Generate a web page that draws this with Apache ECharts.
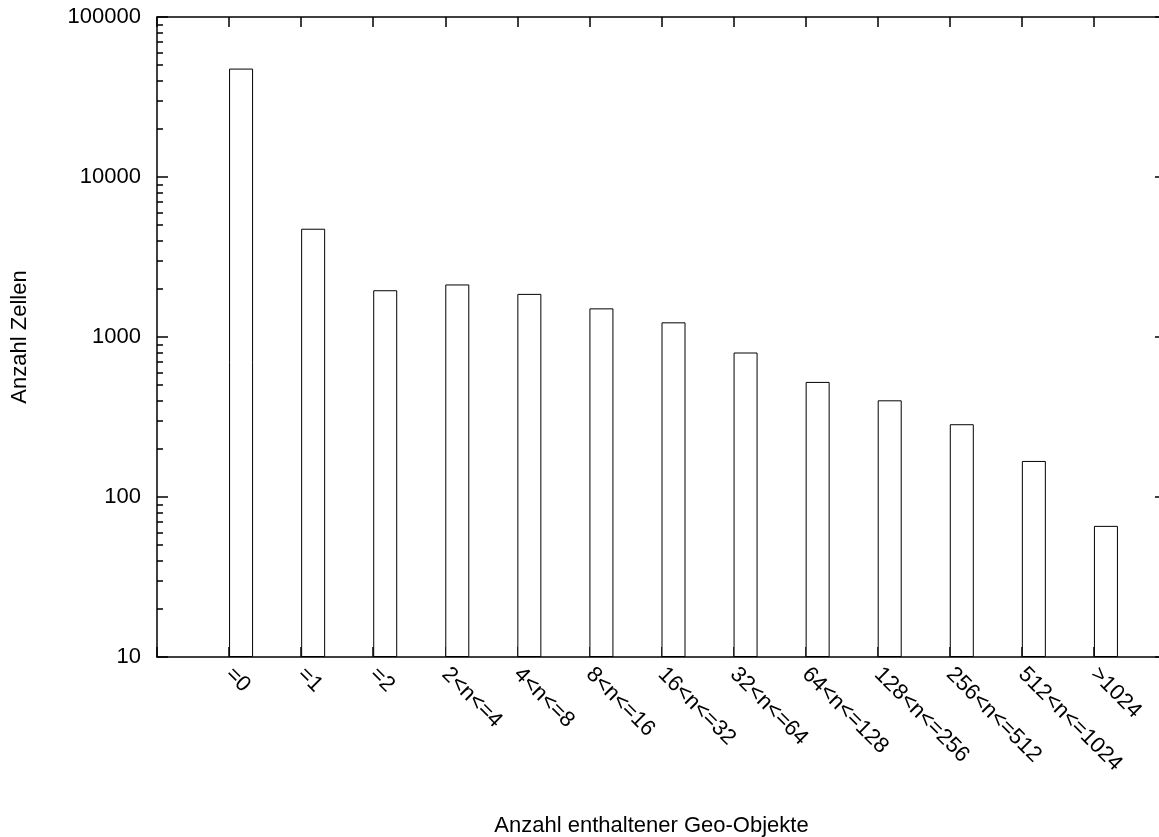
<!DOCTYPE html>
<html>
<head>
<meta charset="utf-8">
<script src="https://cdn.jsdelivr.net/npm/echarts@6/dist/echarts.min.js"></script>
<style>
html,body{margin:0;padding:0;background:#fff;}
#c{width:1159px;height:837px;}
</style>
</head>
<body>
<div id="c"></div>
<script>
const categories = ['=0','=1','=2','2<n<=4','4<n<=8','8<n<=16','16<n<=32','32<n<=64','64<n<=128','128<n<=256','256<n<=512','512<n<=1024','>1024'];
const cellCounts = [47600, 4750, 1960, 2130, 1860, 1510, 1235, 800, 524, 402, 285, 168, 66];
const yTickLabels = [10, 100, 1000, 10000, 100000];
const minorMultipliers = [2, 3, 4, 5, 6, 7, 8, 9];

const FONT = 'Liberation Sans, Arial, Helvetica, sans-serif';
const FS = 22;

const minorExp = [];
for (let d = 1; d < 5; d++) {
  minorMultipliers.forEach(m => minorExp.push(Math.log10(m * Math.pow(10, d))));
}

const chart = echarts.init(document.getElementById('c'), null, {renderer: 'canvas'});
const axisLine = {show: true, onZero: false, lineStyle: {color: '#000', width: 1.5}};
const noLine = {show: false, onZero: false};
chart.setOption({
  animation: false,
  backgroundColor: '#fff',
  grid: {left: 157, right: -7, top: 17, bottom: 180, containLabel: false, outerBoundsMode: 'none'},
  xAxis: [{
    type: 'value', position: 'bottom', min: -1, max: 13, interval: 1,
    axisLine: axisLine,
    axisTick: {show: true, inside: true, length: 10, lineStyle: {color: '#000', width: 1.5}},
    splitLine: {show: false},
    axisLabel: {
      show: true, rotate: -45, margin: 14, color: '#000', fontFamily: FONT, fontSize: FS,
      formatter: v => (v >= 0 && v < categories.length) ? categories[v] : ''
    },
    name: 'Anzahl enthaltener Geo-Objekte', nameLocation: 'middle', nameGap: 158,
    nameTextStyle: {color: '#000', fontFamily: FONT, fontSize: FS, padding: [0, 20, 0, 0]}
  }, {
    type: 'value', position: 'top', min: -1, max: 13, interval: 1,
    axisLine: axisLine,
    axisTick: {show: true, inside: true, length: 10, lineStyle: {color: '#000', width: 1.5}},
    axisLabel: {show: false}, splitLine: {show: false}
  }],
  yAxis: [{
    type: 'log', logBase: 10, min: yTickLabels[0], max: yTickLabels[yTickLabels.length - 1],
    startValue: yTickLabels[0], position: 'left',
    axisLine: axisLine,
    axisTick: {show: true, inside: true, length: 11, lineStyle: {color: '#000', width: 1.5}},
    splitLine: {show: false},
    axisLabel: {color: '#000', fontFamily: FONT, fontSize: FS, margin: 16, formatter: v => String(Math.round(v))},
    name: 'Anzahl Zellen', nameLocation: 'middle', nameGap: 126, nameRotate: 90,
    nameTextStyle: {color: '#000', fontFamily: FONT, fontSize: FS}
  }, {
    type: 'log', logBase: 10, min: yTickLabels[0], max: yTickLabels[yTickLabels.length - 1],
    position: 'right',
    axisLine: axisLine,
    axisTick: {show: true, inside: true, length: 11, lineStyle: {color: '#000', width: 1.5}},
    axisLabel: {show: false}, splitLine: {show: false}
  }, {
    type: 'value', min: 1, max: 5, position: 'left', offset: 0,
    axisLine: noLine,
    axisTick: {show: true, inside: true, length: 6, customValues: minorExp, lineStyle: {color: '#000', width: 1.5}},
    axisLabel: {show: false}, splitLine: {show: false}
  }, {
    type: 'value', min: 1, max: 5, position: 'right', offset: 0,
    axisLine: noLine,
    axisTick: {show: true, inside: true, length: 6, customValues: minorExp, lineStyle: {color: '#000', width: 1.5}},
    axisLabel: {show: false}, splitLine: {show: false}
  }],
  series: [{
    type: 'bar', xAxisIndex: 0, yAxisIndex: 0, barWidth: 24, barGap: '0%',
    data: [], silent: true
  }, {
    type: 'bar', xAxisIndex: 0, yAxisIndex: 0, barWidth: 24, barGap: '0%', clip: true,
    itemStyle: {color: '#fff', borderColor: '#000', borderWidth: 1},
    data: categories.map((c, i) => [i, cellCounts[i]])
  }]
});
</script>
</body>
</html>
